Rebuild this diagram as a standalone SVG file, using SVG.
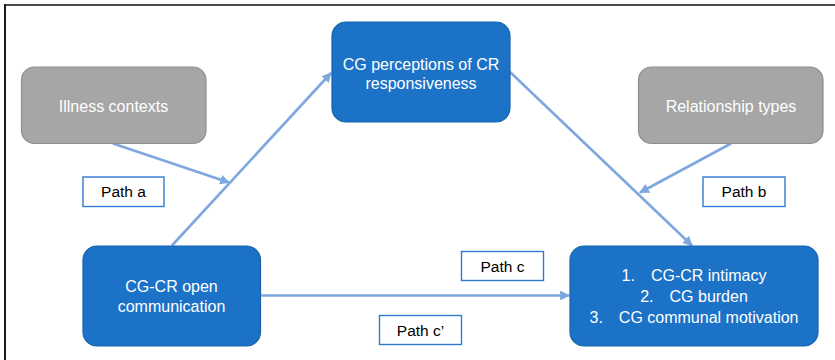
<svg xmlns="http://www.w3.org/2000/svg" width="835" height="360" viewBox="0 0 835 360">
<defs>
<marker id="ah" viewBox="0 0 10 10" refX="9" refY="5" markerWidth="3.8" markerHeight="3.8" markerUnits="strokeWidth" orient="auto">
<path d="M0,0 L10,5 L0,10 z" fill="#7ea7de"/>
</marker>
<style>
.blue{fill:#1b72c7;stroke:#1762ad;stroke-width:1.2}
.grey{fill:#a6a6a6;stroke:#8e8e8e;stroke-width:1.2}
.wt{fill:#ffffff;font-family:"Liberation Sans",Arial,sans-serif;font-size:16px;text-anchor:middle}
.lab{fill:#ffffff;stroke:#2f7bd0;stroke-width:1.4}
.lt{fill:#000000;font-family:"Liberation Sans",Arial,sans-serif;font-size:15.5px;text-anchor:middle}
.conn{fill:none;stroke:#7ea7de;stroke-width:2.6;marker-end:url(#ah)}
</style>
</defs>
<rect width="835" height="360" fill="#ffffff"/>
<g id="frame">
<line x1="4" y1="5" x2="835" y2="5" stroke="#4d4d4d" stroke-width="2"/>
<line x1="5" y1="4" x2="5" y2="360" stroke="#1a1a1a" stroke-width="2"/>
</g>
<g id="connectors">
<line class="conn" x1="172" y1="245.5" x2="331" y2="73"/>
<line class="conn" x1="113" y1="143.5" x2="229" y2="182.5"/>
<line class="conn" x1="510" y1="72" x2="692" y2="245.5"/>
<line class="conn" x1="731" y1="143.5" x2="640" y2="192.5"/>
<line class="conn" x1="260.5" y1="295.5" x2="569" y2="295.5"/>
</g>
<g id="node-responsiveness">
<rect class="blue" x="332" y="22" width="178" height="100" rx="14"/>
<text class="wt" x="421" y="70">CG perceptions of CR</text>
<text class="wt" x="421" y="88.5">responsiveness</text>
</g>
<g id="node-illness">
<rect class="grey" x="21.5" y="67" width="184.5" height="76.5" rx="13"/>
<text class="wt" x="113.5" y="111.5">Illness contexts</text>
</g>
<g id="node-relationship">
<rect class="grey" x="638.5" y="67" width="184.5" height="76.5" rx="13"/>
<text class="wt" x="731" y="111.5">Relationship types</text>
</g>
<g id="node-communication">
<rect class="blue" x="83" y="246" width="177.5" height="100" rx="14"/>
<text class="wt" x="171.5" y="291.5">CG-CR open</text>
<text class="wt" x="171.5" y="312">communication</text>
</g>
<g id="node-outcomes">
<rect class="blue" x="570" y="246" width="248" height="100" rx="14"/>
<text class="wt" x="694" y="280.5">1.<tspan dx="16">CG-CR intimacy</tspan></text>
<text class="wt" x="694" y="301.5">2.<tspan dx="16">CG burden</tspan></text>
<text class="wt" x="694" y="323">3.<tspan dx="16">CG communal motivation</tspan></text>
</g>
<g id="label-path-a">
<rect class="lab" x="83" y="177" width="81" height="29.5"/>
<text class="lt" x="123.5" y="197">Path a</text>
</g>
<g id="label-path-b">
<rect class="lab" x="703" y="177" width="82" height="29.5"/>
<text class="lt" x="744" y="197">Path b</text>
</g>
<g id="label-path-c">
<rect class="lab" x="461.5" y="251.5" width="82" height="29"/>
<text class="lt" x="502.5" y="271.5">Path c</text>
</g>
<g id="label-path-c-prime">
<rect class="lab" x="379.5" y="315.5" width="82" height="29"/>
<text class="lt" x="420.5" y="335.5">Path c’</text>
</g>
</svg>
